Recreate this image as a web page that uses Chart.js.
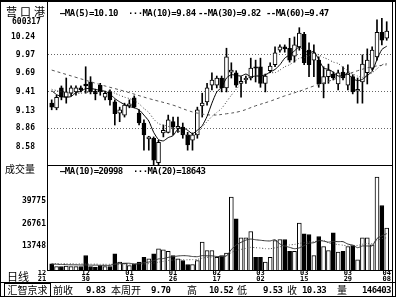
<!DOCTYPE html>
<html lang="zh-CN">
<head>
<meta charset="UTF-8">
<title>营口港 600317 日线</title>
<script src="https://cdn.jsdelivr.net/npm/chart.js@4"></script>
<style>
  html, body { margin: 0; padding: 0; background: #fff; }
  #wrap { position: relative; width: 400px; height: 300px; overflow: hidden; background: #fff; color: #000; }
  #wrap canvas { position: absolute; left: 0; }
  #priceChart { top: 0; }
  #volChart { top: 166px; }
  .t { position: absolute; white-space: pre; line-height: 1; }
  .m { font-family: "DejaVu Sans Mono", monospace; font-weight: bold; font-size: 9px; letter-spacing: -0.6px; }
  .c { font-family: "Noto Sans CJK SC", sans-serif; font-size: 10px; }
  .ln { position: absolute; background: #000; }
</style>
</head>
<body>
<div id="wrap">
  <canvas id="priceChart" width="400" height="166"></canvas>
  <canvas id="volChart" width="400" height="118"></canvas>

  <div class="ln" style="left:0;top:0;width:396px;height:2px"></div>
  <div class="ln" style="left:0;top:0;width:1px;height:297px"></div>
  <div class="ln" style="left:392px;top:0;width:1px;height:297px"></div>
  <div class="ln" style="left:395px;top:0;width:1px;height:297px"></div>
  <div class="ln" style="left:0;top:282px;width:396px;height:1px"></div>
  <div class="ln" style="left:0;top:296px;width:396px;height:1px"></div>

  <span class="t c" style="left:6px;top:6px;font-size:11px;letter-spacing:3px">营口港</span>
  <span class="t m" style="left:12px;top:18px;font-size:8px;letter-spacing:0">600317</span>

  <span class="t m" style="left:60px;top:9px">—MA(5)=10.10</span>
  <span class="t m" style="left:128px;top:9px">···MA(10)=9.84</span>
  <span class="t m" style="left:198px;top:9px">--MA(30)=9.82</span>
  <span class="t m" style="left:266px;top:9px">--MA(60)=9.47</span>

  <span class="t c" style="left:5px;top:164px">成交量</span>
  <span class="t m" style="left:60px;top:167px">—MA(10)=20998</span>
  <span class="t m" style="left:133px;top:167px">···MA(20)=18643</span>

  <span class="t c" style="left:7px;top:271px;font-size:11px">日线</span>

  <span class="t c" style="left:4px;top:283px;width:45px;height:12px;border:1px solid #000;text-align:center;line-height:12px">汇智京求</span>
  <span class="t c" style="left:53px;top:285px">前收</span>
  <span class="t m" style="left:86px;top:286px">9.83</span>
  <span class="t c" style="left:111px;top:285px">本周开</span>
  <span class="t m" style="left:151px;top:286px">9.70</span>
  <span class="t c" style="left:187px;top:285px">高</span>
  <span class="t m" style="left:209px;top:286px">10.52</span>
  <span class="t c" style="left:237px;top:285px">低</span>
  <span class="t m" style="left:263px;top:286px">9.53</span>
  <span class="t c" style="left:287px;top:285px">收</span>
  <span class="t m" style="left:302px;top:286px">10.33</span>
  <span class="t c" style="left:337px;top:285px">量</span>
  <span class="t m" style="left:362px;top:286px">146403</span>
</div>

<script>
// daily candles, 70 sessions
const open  = [9.24,9.17,9.47,9.33,9.39,9.41,9.47,9.53,9.56,9.42, 9.51,9.33,9.41,9.26,9.09,9.06,9.20,9.32,9.09,8.94,
               8.70,8.71,8.34,8.79,8.80,8.96,8.86,8.88,8.76,8.68, 8.76,9.20,9.26,9.51,9.51,9.62,9.47,9.71,9.70,9.54,
               9.59,9.62,9.79,9.79,9.54,9.73,9.82,10.04,10.09,10.07, 9.95,10.09,10.28,10.04,9.89,9.89,9.53,9.64,9.68,9.53,
               9.71,9.51,9.64,9.42,9.56,9.70,9.77,9.94,10.31,10.22];
const high  = [9.29,9.36,9.50,9.62,9.50,9.50,9.50,9.79,9.64,9.45, 9.54,9.42,9.44,9.29,9.18,9.24,9.29,9.35,9.14,8.99,
               8.74,8.73,8.68,8.91,9.06,9.03,9.03,8.94,8.80,8.79, 9.18,9.39,9.54,9.70,9.65,9.65,10.07,9.85,9.73,9.64,
               9.65,9.92,9.89,9.92,9.68,9.85,10.09,10.12,10.12,10.22, 10.24,10.38,10.31,10.15,10.12,9.94,9.79,9.83,9.71,9.74,
               9.79,9.82,9.67,9.62,9.97,10.06,10.09,10.50,10.52,10.47];
const low   = [9.14,9.14,9.29,9.24,9.35,9.36,9.41,9.39,9.38,9.29, 9.36,9.29,9.21,8.91,8.96,9.03,9.17,9.17,8.91,8.53,
               8.53,8.31,8.31,8.73,8.79,8.76,8.80,8.71,8.53,8.53, 8.71,9.03,9.21,9.44,9.47,9.41,9.41,9.62,9.48,9.33,
               9.54,9.59,9.56,9.48,9.41,9.70,9.79,10.01,10.01,9.86, 9.86,10.04,9.82,9.64,9.64,9.48,9.32,9.54,9.59,9.44,
               9.59,9.44,9.38,9.24,9.24,9.53,9.74,9.89,10.12,10.19];
const close = [9.18,9.33,9.33,9.41,9.47,9.47,9.44,9.50,9.41,9.38, 9.41,9.39,9.29,9.08,9.14,9.21,9.23,9.18,8.94,8.76,
               8.73,8.38,8.65,8.83,8.99,8.88,8.89,8.76,8.61,8.76, 9.14,9.24,9.47,9.59,9.62,9.47,9.94,9.74,9.51,9.57,
               9.62,9.77,9.77,9.54,9.65,9.80,10.00,10.09,10.06,9.89, 10.12,10.30,9.85,9.82,10.00,9.53,9.64,9.74,9.62,9.70,
               9.62,9.70,9.41,9.45,9.83,9.89,10.04,10.31,10.19,10.33];
const volume = [3590,2020,2020,2300,2020,2020,2020,8390,2020,1740, 2600,2020,2020,9370,4510,3930,2600,3590,4510,7400,
                6480,9370,12260,11680,10870,8390,6480,5490,3180,3180, 5490,16080,11280,11280,7400,8390,9720,42110,29610,18620,
                18620,22270,7400,7400,4510,7400,17060,17640,17640,10870, 10870,27070,20940,20530,8390,19380,13590,11280,21520,10300,
                10870,13590,14170,5900,18620,18620,14580,53680,37310,24180];

// price moving averages
const ma5  = [9.43,9.37,9.34,9.33,9.34,9.40,9.42,9.46,9.46,9.45, 9.43,9.42,9.38,9.31,9.26,9.22,9.19,9.17,9.14,9.06,
              8.97,8.80,8.69,8.67,8.72,8.75,8.85,8.87,8.83,8.78, 8.83,8.90,9.04,9.24,9.41,9.48,9.62,9.67,9.66,9.65,
              9.68,9.64,9.65,9.65,9.67,9.71,9.75,9.82,9.92,9.97, 10.03,10.09,10.04,10.00,10.02,9.90,9.77,9.75,9.71,9.65,
              9.66,9.68,9.61,9.58,9.60,9.66,9.72,9.90,10.05,10.10];
const ma10 = [9.45,9.43,9.41,9.40,9.39,9.39,9.39,9.40,9.41,9.40, 9.42,9.42,9.42,9.39,9.36,9.33,9.31,9.28,9.23,9.16,
              9.10,9.00,8.93,8.91,8.89,8.86,8.83,8.78,8.75,8.75, 8.79,8.88,8.96,9.04,9.10,9.16,9.26,9.36,9.45,9.53,
              9.58,9.63,9.66,9.66,9.66,9.70,9.70,9.74,9.79,9.82, 9.87,9.92,9.93,9.96,10.00,9.97,9.93,9.90,9.86,9.84,
              9.78,9.73,9.68,9.65,9.63,9.66,9.70,9.76,9.82,9.84];
const ma30Idx = [0,5,10,15,20,25,28,30,33,36,39,42,45,48,51,54,57,60,63,66,69];
const ma30    = [9.74,9.63,9.52,9.42,9.31,9.21,9.13,9.09,9.06,9.08,9.12,9.20,9.27,9.35,9.42,9.50,9.57,9.65,9.73,9.79,9.82];

// volume moving averages
const vma10 = [3400,3300,3200,3100,3000,3000,2900,2900,2800,2800, 2700,2700,2700,3400,3700,3850,3900,3400,3700,4250,
               4600,5400,6400,6600,7300,7700,8100,8300,8200,7800, 7700,8300,8200,8200,7800,7800,8200,11800,14500,16000,
               17300,17900,17500,17200,16900,16800,17500,15050,13850,13100, 12300,12800,14100,15500,15800,17000,16700,16100,16500,16400,
               16400,15000,14400,12900,13900,13900,13950,18200,19800,20998];
const vma20 = [3800,3700,3700,3600,3600,3500,3500,3500,3400,3400, 3300,3300,3300,3400,3400,3400,3400,3400,3500,3500,
               3670,4040,4550,5000,5500,5800,6000,5900,5900,6000, 6150,6850,7300,7400,7560,7800,8100,10100,11300,11900,
               12500,13100,12900,12700,12350,12300,12800,13400,14200,14500, 14800,15400,15800,16300,16350,16900,17100,15600,15150,14700,
               14350,13900,14300,14200,14900,15400,15300,17100,18100,18643];

// axis labels
const priceTicks = [8.58, 8.86, 9.13, 9.41, 9.69, 9.97, 10.24];
const priceGrid  = [8.86, 9.41, 9.97];
const volTicks   = [13748, 26761, 39775];
const dateIdx = [-2, 7, 16, 25, 34, 43, 52, 61, 69];
const dateMon = ['12','12','01','01','02','03','03','03','04'];
const dateDay = ['21','30','13','26','17','02','15','29','08'];

const xMin = -0.76, xMax = 70.09;
const idx = close.map((_, i) => i);
const down = i => close[i] < open[i];
const monoFont = {family: 'DejaVu Sans Mono', size: 8, weight: 'bold'};

// keep tick label padding from eating into the plot height
function fixY(s) {
  s.width = 48;
  s.paddingTop = 0;
  s.paddingBottom = 0;
}

const frame = {
  id: 'frame',
  afterDraw(chart) {
    const {ctx, chartArea: a} = chart;
    ctx.save();
    ctx.strokeStyle = '#000';
    ctx.lineWidth = 1;
    ctx.beginPath();
    ctx.moveTo(a.left - 0.5, 0);
    ctx.lineTo(a.left - 0.5, a.bottom + 1);
    ctx.moveTo(a.left - 1, a.bottom + 0.5);
    ctx.lineTo(a.right + 1, a.bottom + 0.5);
    ctx.stroke();
    ctx.restore();
  }
};

const base = {
  responsive: false,
  animation: false,
  devicePixelRatio: 1,
  events: [],
  plugins: {legend: {display: false}, tooltip: {enabled: false}}
};

new Chart(document.getElementById('priceChart'), {
  type: 'bar',
  data: {
    datasets: [
      {type: 'line', data: idx.map(i => ({x: i, y: ma5[i]})), borderColor: '#000', borderWidth: 1,
       pointRadius: 0, tension: 0.2, order: 0},
      {type: 'line', data: idx.map(i => ({x: i, y: ma10[i]})), borderColor: '#444', borderWidth: 1,
       borderDash: [1, 2], pointRadius: 0, tension: 0.2, order: 0},
      {type: 'line', data: ma30Idx.map((v, k) => ({x: v, y: ma30[k]})), borderColor: '#555', borderWidth: 1,
       borderDash: [3, 3], pointRadius: 0, tension: 0.4, order: 0},
      {data: idx.map(i => ({x: i, y: [open[i], close[i]]})),
       backgroundColor: idx.map(i => down(i) ? '#000' : '#fff'),
       borderColor: '#000', borderWidth: 1, borderSkipped: false,
       barThickness: 4, grouped: false, order: 1},
      {data: idx.map(i => ({x: i, y: [low[i], high[i]]})),
       backgroundColor: '#000', barThickness: 1, grouped: false, order: 2}
    ]
  },
  options: {
    ...base,
    layout: {padding: {top: 3, right: 8, bottom: 1, left: 0}},
    scales: {
      x: {type: 'linear', min: xMin, max: xMax, offset: false, display: false},
      y: {
        min: 8.306, max: 10.753,
        afterFit: fixY,
        afterBuildTicks: s => { s.ticks = priceTicks.map(v => ({value: v})); },
        grid: {drawTicks: false, color: c => (c.tick && priceGrid.includes(c.tick.value)) ? '#666' : 'rgba(0,0,0,0)'},
        border: {display: false, dash: [1, 2]},
        ticks: {padding: 13, color: '#000', font: monoFont, autoSkip: false, callback: v => Number(v).toFixed(2)}
      }
    }
  },
  plugins: [frame]
});

new Chart(document.getElementById('volChart'), {
  type: 'bar',
  data: {
    datasets: [
      {type: 'line', data: idx.map(i => ({x: i, y: vma10[i]})), borderColor: '#333', borderWidth: 1,
       pointRadius: 0, tension: 0.2, order: 0},
      {type: 'line', data: idx.map(i => ({x: i, y: vma20[i]})), borderColor: '#555', borderWidth: 1,
       borderDash: [1, 2], pointRadius: 0, tension: 0.2, order: 0},
      {data: idx.map(i => ({x: i, y: volume[i]})),
       backgroundColor: idx.map(i => down(i) ? '#000' : '#fff'),
       borderColor: '#000', borderWidth: 1, barThickness: 4, grouped: false, order: 1}
    ]
  },
  options: {
    ...base,
    layout: {padding: {top: 0, right: 8, bottom: 0, left: 0}},
    scales: {
      x: {
        type: 'linear', min: xMin, max: xMax, offset: false,
        afterFit: s => { s.height = 14; s.paddingLeft = 0; s.paddingRight = 0; },
        afterBuildTicks: s => { s.ticks = dateIdx.map(v => ({value: v})); },
        grid: {display: false, drawTicks: false},
        border: {display: false},
        ticks: {
          padding: 1, color: '#000', autoSkip: false, maxRotation: 0, minRotation: 0,
          font: {family: 'DejaVu Sans Mono', size: 7, weight: 'bold', lineHeight: 0.75},
          callback: v => { const k = dateIdx.indexOf(v); return k < 0 ? '' : [dateMon[k], dateDay[k]]; }
        }
      },
      y: {
        min: 0, max: 60150,
        afterFit: fixY,
        afterBuildTicks: s => { s.ticks = volTicks.map(v => ({value: v})); },
        grid: {display: false, drawTicks: false},
        border: {display: false},
        ticks: {padding: 2, color: '#000', font: monoFont, autoSkip: false, callback: v => String(v)}
      }
    }
  },
  plugins: [frame]
});
</script>
</body>
</html>
